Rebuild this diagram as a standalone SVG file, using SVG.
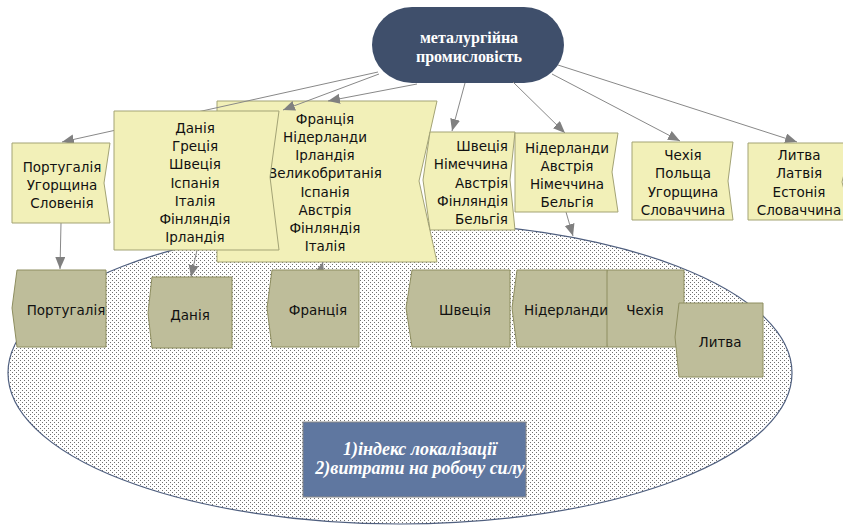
<svg xmlns="http://www.w3.org/2000/svg" width="843" height="528" viewBox="0 0 843 528">
<defs>
<pattern id="dots" width="4" height="4" patternUnits="userSpaceOnUse">
<rect width="4" height="4" fill="#ffffff"/>
<rect x="0" y="0" width="1" height="1" fill="#707070"/>
<rect x="2" y="2" width="1" height="1" fill="#707070"/>
</pattern>
<marker id="arr" markerUnits="userSpaceOnUse" markerWidth="13" markerHeight="11" refX="12" refY="5" orient="auto">
<path d="M0,0 L12,5 L0,10 Z" fill="#808080"/>
</marker>
<style>
.card{fill:#f2f0b8;stroke:#a3a375;stroke-width:1}
.low{fill:#bebd9a;stroke:#8e8e60;stroke-width:1}
.t{font-family:"DejaVu Sans",Verdana,sans-serif;font-size:13.5px;fill:#111;text-anchor:middle}
.con{stroke:#888888;stroke-width:1;fill:none;marker-end:url(#arr)}
.f{font-family:"Liberation Serif",serif;font-weight:bold;font-style:italic;font-size:18px;fill:#ffffff;text-anchor:middle}
</style>
</defs>
<rect width="843" height="528" fill="#ffffff"/>

<g id="area">
<ellipse cx="400" cy="373" rx="392" ry="151" fill="url(#dots)" stroke="#4f5f7f" stroke-width="1.2"/>
</g>

<g id="root">
<rect x="372" y="7" width="192" height="76" rx="40" ry="38" fill="#3f4f6b"/>
<text x="469" y="43" font-family="Liberation Serif,serif" font-weight="bold" font-size="16" fill="#ffffff" text-anchor="middle">металургійна</text>
<text x="469" y="62" font-family="Liberation Serif,serif" font-weight="bold" font-size="16" fill="#ffffff" text-anchor="middle">промисловість</text>
</g>

<g id="top-francia">
<path class="card" d="M217,101 L437,101 L419,181 L437,262 L217,262 Z"/>
<text class="t" x="325" y="124">Франція</text>
<text class="t" x="325" y="142">Нідерланди</text>
<text class="t" x="325" y="160">Ірландія</text>
<text class="t" x="325" y="178">Великобританія</text>
<text class="t" x="325" y="197">Іспанія</text>
<text class="t" x="325" y="215">Австрія</text>
<text class="t" x="325" y="233">Фінляндія</text>
<text class="t" x="325" y="251">Італія</text>
</g>

<g id="connectors">
<line class="con" x1="378" y1="72" x2="62" y2="142"/>
<line class="con" x1="379" y1="74" x2="283" y2="110"/>
<line class="con" x1="417" y1="84" x2="328" y2="101"/>
<line class="con" x1="465" y1="83" x2="452" y2="131"/>
<line class="con" x1="513" y1="82" x2="565" y2="133"/>
<line class="con" x1="552" y1="74" x2="680" y2="141"/>
<line class="con" x1="558" y1="65" x2="797" y2="142"/>
<line class="con" x1="61" y1="223" x2="60" y2="269"/>
<line class="con" x1="197" y1="250" x2="191" y2="277"/>
<line class="con" x1="316" y1="285" x2="323" y2="262"/>
<line class="con" x1="566" y1="212" x2="573" y2="236"/>
</g>

<g id="top-dania">
<path class="card" d="M114,111 L279,111 L270,177 L279,250 L114,250 Z"/>
<text class="t" x="195" y="133">Данія</text>
<text class="t" x="195" y="151">Греція</text>
<text class="t" x="195" y="169">Швеція</text>
<text class="t" x="195" y="188">Іспанія</text>
<text class="t" x="195" y="206">Італія</text>
<text class="t" x="195" y="224">Фінляндія</text>
<text class="t" x="195" y="242">Ірландія</text>
</g>

<g id="top-portugal">
<path class="card" d="M12,143 L110,143 L104,183 L110,223 L12,223 Z"/>
<text class="t" x="62" y="172">Португалія</text>
<text class="t" x="62" y="190">Угорщина</text>
<text class="t" x="62" y="208">Словенія</text>
</g>

<g id="top-shvecia">
<path class="card" d="M430,132 L515,132 L510,180 L515,230 L430,230 L423,180 Z"/>
<text class="t" x="508" y="151" style="text-anchor:end">Швеція</text>
<text class="t" x="508" y="169" style="text-anchor:end">Німеччина</text>
<text class="t" x="508" y="188" style="text-anchor:end">Австрія</text>
<text class="t" x="508" y="206" style="text-anchor:end">Фінляндія</text>
<text class="t" x="508" y="224" style="text-anchor:end">Бельгія</text>
</g>

<g id="top-niderlandy">
<path class="card" d="M515,133 L618,133 L612,172 L618,212 L515,212 Z"/>
<text class="t" x="567" y="153">Нідерланди</text>
<text class="t" x="567" y="171">Австрія</text>
<text class="t" x="567" y="189">Німеччина</text>
<text class="t" x="567" y="207">Бельгія</text>
</g>

<g id="top-chehia">
<path class="card" d="M632,142 L733,142 L728,181 L733,220 L632,220 Z"/>
<text class="t" x="683" y="160">Чехія</text>
<text class="t" x="683" y="178">Польща</text>
<text class="t" x="683" y="197">Угорщина</text>
<text class="t" x="683" y="215">Словаччина</text>
</g>

<g id="top-lytva">
<path class="card" d="M748,143 L852,143 L842,182 L852,220 L748,220 Z"/>
<text class="t" x="799" y="160">Литва</text>
<text class="t" x="799" y="178">Латвія</text>
<text class="t" x="799" y="197">Естонія</text>
<text class="t" x="799" y="215">Словаччина</text>
</g>

<g id="low-portugal">
<path class="low" d="M17,270 L106,270 L106,347 L17,347 L12,308 Z"/>
<text class="t" x="66" y="315">Португалія</text>
</g>

<g id="low-dania">
<path class="low" d="M152,277 L232,277 L232,348 L152,348 L148,313 Z"/>
<text class="t" x="190" y="320">Данія</text>
</g>

<g id="low-francia">
<path class="low" d="M272,270 L359,270 L359,347 L272,347 L267,308 Z"/>
<text class="t" x="318" y="315">Франція</text>
</g>

<g id="low-shvecia">
<path class="low" d="M412,270 L510,270 L510,347 L412,347 L406,308 Z"/>
<text class="t" x="465" y="315">Швеція</text>
</g>

<g id="low-chehia">
<path class="low" d="M607,270 L684,270 L684,347 L607,347 L602,308 Z"/>
<text class="t" x="645" y="315">Чехія</text>
</g>

<g id="low-niderlandy">
<path class="low" d="M517,270 L607,270 L607,347 L517,347 L512,308 Z"/>
<text class="t" x="566" y="315">Нідерланди</text>
</g>

<g id="low-lytva">
<path class="low" d="M679,303 L763,303 L763,377 L679,377 L675,337 Z"/>
<text class="t" x="720" y="347">Литва</text>
</g>

<g id="factors">
<rect x="303" y="422" width="223" height="75" fill="#5f77a0" stroke="#8a8a8a" stroke-width="1"/>
<text class="f" x="420" y="455">1)індекс локалізації</text>
<text class="f" x="420" y="474">2)витрати на робочу силу</text>
</g>
</svg>
